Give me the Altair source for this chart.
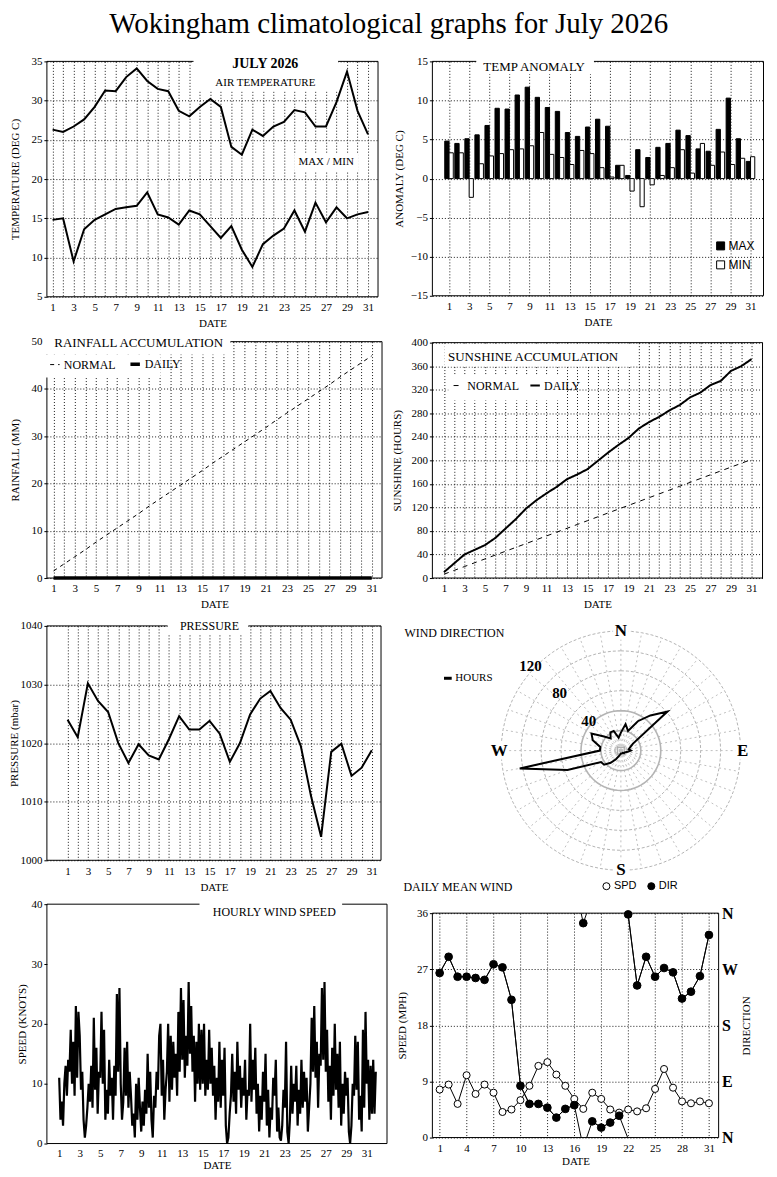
import altair as alt
import pandas as pd

SERIF = "Liberation Serif"
SANS = "Liberation Sans"

days = list(range(1, 32))
odd_days = list(range(1, 32, 2))

temp_max = [26.3, 26.0, 26.7, 27.6, 29.2, 31.3, 31.2, 33.0, 34.1, 32.5, 31.5, 31.2, 28.7, 28.0, 29.2, 30.2,
            29.2, 24.1, 23.1, 26.3, 25.5, 26.7, 27.3, 28.8, 28.5, 26.7, 26.7, 29.8, 33.7, 28.7, 25.7]
temp_min = [14.8, 15.0, 9.5, 13.6, 14.8, 15.5, 16.2, 16.4, 16.6, 18.3, 15.5, 15.1, 14.2, 16.0, 15.5, 14.0,
            12.5, 14.0, 11.0, 8.8, 11.7, 12.8, 13.7, 16.0, 13.3, 17.0, 14.5, 16.4, 15.0, 15.5, 15.8]
anom_max = [4.8, 4.5, 5.1, 5.6, 6.8, 9.0, 8.9, 10.7, 11.7, 10.4, 9.1, 8.6, 5.9, 5.4, 6.6, 7.6,
            6.7, 1.7, 0.4, 3.7, 2.7, 4.0, 4.5, 6.2, 5.5, 3.8, 3.5, 6.3, 10.3, 5.1, 2.2]
anom_min = [3.3, 3.3, -2.4, 1.9, 2.9, 3.2, 3.7, 3.8, 4.2, 5.9, 3.1, 2.7, 1.8, 3.6, 3.2, 1.4,
            0.2, 1.7, -1.6, -3.6, -0.8, 0.4, 1.4, 3.7, 0.7, 4.5, 1.7, 3.4, 1.8, 2.6, 2.8]
rain_normal = [1.5, 3.0, 4.5, 6.0, 7.6, 9.1, 10.6, 12.1, 13.6, 15.2, 16.7, 18.2, 19.7, 21.2, 22.7, 24.3,
               25.8, 27.3, 28.8, 30.3, 31.8, 33.4, 34.9, 36.4, 37.9, 39.4, 40.9, 42.5, 44.0, 45.5, 47.0]
rain_daily = [0, 0, 0, 0, 0, 0, 0, 0, 0, 0, 0, 0, 0, 0, 0, 0,
              0, 0, 0, 0, 0, 0, 0, 0, 0, 0, 0, 0, 0, 0, 0]
sun_daily = [10, 25, 40, 48, 56, 68, 84, 100, 118, 132, 144, 155, 168, 176, 185, 199,
             213, 226, 238, 254, 265, 274, 285, 294, 307, 315, 328, 335, 352, 360, 372]
sun_normal = [6.5, 13.0, 19.5, 26.0, 32.5, 39.0, 45.5, 52.0, 58.5, 65.0, 71.5, 78.0, 84.5, 91.0, 97.5, 104.0,
              110.5, 117.0, 123.5, 130.0, 136.5, 143.0, 149.5, 156.0, 162.5, 169.0, 175.5, 182.0, 188.5, 195.0, 201.5]
pressure = [1024.0, 1021.0, 1030.2, 1027.2, 1025.3, 1020.0, 1016.6, 1019.8, 1017.9, 1017.2, 1020.7, 1024.6,
            1022.3, 1022.3, 1023.8, 1021.6, 1016.8, 1020.0, 1024.9, 1027.6, 1028.9, 1026.0, 1024.0, 1019.5,
            1011.0, 1004.0, 1018.5, 1019.9, 1014.4, 1015.8, 1018.8]
rose_bearing = [0, 10, 20, 30, 40, 50, 60, 70, 80, 90, 100, 110, 120, 130, 140, 150, 160, 170,
                180, 190, 200, 210, 220, 230, 240, 250, 260, 270, 280, 290, 300, 310, 320, 330, 340, 350]
rose_hours = [18, 27, 21, 34, 46, 61, 14, 10, 8, 10, 7, 5, 4, 4, 3, 3, 3, 3,
              3, 4, 6, 10, 16, 22, 23, 57, 103, 21, 21, 30, 34, 22, 16, 21, 21, 13]
ring_radii = [20, 40, 60, 80, 100, 120]
inner_rings = [5, 10, 15]
ring_labels = [40, 80, 120]
cardinals = ["N", "E", "S", "W"]
cardinal_bearing = [0, 90, 180, 270]
# 3-hourly wind speed (knots), 8 readings per day
hourly_speed = [
    11, 4, 7, 3, 10, 13, 8, 14,
    12, 19, 10, 17, 8, 23, 11, 22,
    18, 9, 12, 4, 1, 3, 6, 10,
    7, 13, 6, 21, 9, 16, 5, 12,
    11, 22, 10, 19, 4, 9, 5, 14,
    8, 11, 4, 13, 8, 25, 12, 26,
    10, 4, 7, 16, 8, 17, 6, 12,
    8, 3, 5, 1, 10, 4, 11, 6,
    2, 7, 3, 9, 5, 15, 6, 12,
    4, 1, 8, 6, 12, 9, 18, 20,
    8, 14, 4, 9, 12, 20, 7, 18,
    9, 17, 11, 15, 8, 22, 12, 26,
    14, 24, 11, 18, 13, 27, 15, 23,
    12, 18, 7, 17, 10, 20, 9, 19,
    10, 20, 8, 14, 9, 19, 10, 16,
    8, 13, 4, 11, 7, 17, 6, 14,
    8, 16, 3, 0, 1, 5, 8, 15,
    7, 12, 5, 17, 9, 13, 6, 11,
    8, 14, 4, 9, 8, 20, 7, 14,
    9, 16, 5, 10, 2, 8, 4, 12,
    7, 15, 3, 9, 1, 6, 4, 11,
    8, 14, 2, 6, 1, 0.5, 3, 9,
    6, 17, 2, 0, 4, 13, 5, 10,
    7, 13, 3, 9, 5, 14, 6, 12,
    7, 11, 2, 6, 10, 21, 12, 23,
    11, 17, 6, 15, 13, 26, 14, 27,
    12, 19, 7, 13, 4, 16, 8, 20,
    9, 15, 6, 17, 3, 10, 5, 12,
    8, 11, 2, 0, 3, 10, 8, 18,
    9, 17, 4, 8, 2, 19, 6, 22,
    10, 14, 4, 13, 5, 14, 5, 12,
]
wind_spd = [7.7, 8.5, 5.4, 10.0, 7.0, 8.5, 7.2, 4.1, 4.5, 6.0, 8.3, 11.5, 12.1, 10.1, 8.3, 6.2,
            4.6, 7.2, 6.2, 4.5, 4.0, 4.5, 4.2, 4.7, 7.8, 11.0, 8.0, 5.8, 5.5, 5.8, 5.5]
wind_dir = [264, 290, 258, 258, 256, 253, 278, 273, 221, 83, 54, 54, 48, 32, 46, 52,
            344, 26, 16, 24, 35, 358, 244, 290, 258, 272, 265, 223, 234, 259, 325]

deco = pd.DataFrame({"k": [1]})


def border():
    return alt.Chart(deco).mark_rect(fillOpacity=0, stroke="black", strokeWidth=1).encode(
        x=alt.value(0), x2=alt.value("width"), y=alt.value(0), y2=alt.value("height"))


def wbox(x0, x1, y0, y1):
    return alt.Chart(deco).mark_rect(fill="white").encode(
        x=alt.value(x0), x2=alt.value(x1), y=alt.value(y0), y2=alt.value(y1))


def label(text, x, y, size=12, weight="normal", align="center", font=SERIF):
    return alt.Chart(deco).mark_text(text=text, fontSize=size, fontWeight=weight, align=align,
                                     baseline="middle", font=font, color="black").encode(
        x=alt.value(x), y=alt.value(y))


def day_x(domain, values, field="day", labels_odd=True, grid=True, lp=5, tp=5):
    expr = "datum.value % 2 == 1 ? datum.label : ''" if labels_odd else "datum.label"
    return alt.X(f"{field}:Q", scale=alt.Scale(domain=domain, nice=False, zero=False),
                 axis=alt.Axis(values=values, labelExpr=expr, title="DATE", grid=grid, ticks=False,
                               labelPadding=lp, titlePadding=tp))


def yax(field, domain, values, title, tp, grid=True):
    return alt.Y(f"{field}:Q", scale=alt.Scale(domain=domain, nice=False, zero=False),
                 axis=alt.Axis(values=values, title=title, grid=grid, titlePadding=tp, labelPadding=2,
                               format="d"))


# ---------- Panel 1: air temperature ----------
temp_df = pd.DataFrame({"day": days * 2, "value": temp_max + temp_min,
                        "series": ["MAX"] * 31 + ["MIN"] * 31})
p1_lines = alt.Chart(temp_df).mark_line(color="black", strokeWidth=2).encode(
    x=day_x([0.46, 31.95], days),
    y=yax("value", [5, 35], list(range(5, 36, 5)), "TEMPERATURE (DEG C)", 10.5),
    detail="series:N")
p1 = alt.layer(
    border(), wbox(147, 292, -7, 30), wbox(248, 312, 92, 110), p1_lines,
    label("JULY 2026", 219, 3, size=14, weight="bold"),
    label("AIR TEMPERATURE", 219, 22, size=11),
    label("MAX / MIN", 280, 101, size=11),
).properties(width=332, height=236)

# ---------- Panel 2: temperature anomaly ----------
anom_df = pd.DataFrame({"day": days * 2, "value": anom_max + anom_min,
                        "series": ["MAX"] * 31 + ["MIN"] * 31})
p2_bars = alt.Chart(anom_df).transform_calculate(
    x0="datum.series == 'MAX' ? datum.day - 0.43 : datum.day",
    x1="datum.series == 'MAX' ? datum.day : datum.day + 0.42",
    zero="0",
).mark_rect(stroke="black", strokeWidth=1).encode(
    x=day_x([-0.66, 32.29], odd_days, field="x0", labels_odd=False),
    x2="x1:Q",
    y=yax("value", [-15, 15], list(range(-15, 16, 5)), "ANOMALY (DEG C)", 5.8),
    y2="zero:Q",
    fill=alt.Fill("series:N", scale=alt.Scale(domain=["MAX", "MIN"], range=["black", "white"]),
                  legend=alt.Legend(orient="none", legendX=283, legendY=179, title=None,
                                    symbolType="square", symbolSize=64, symbolStrokeColor="black",
                                    symbolStrokeWidth=1, labelFont=SANS, labelFontSize=12,
                                    rowPadding=7, labelOffset=2)))
p2 = alt.layer(
    border(), wbox(44, 162, -7, 13), p2_bars,
    label("TEMP ANOMALY", 102, 6, size=13),
).properties(width=332, height=235)

# ---------- Panel 3: rainfall ----------
rain_df = pd.DataFrame({"day": days * 2, "value": rain_normal + rain_daily,
                        "series": ["NORMAL"] * 31 + ["DAILY"] * 31})
p3_lines = alt.Chart(rain_df).mark_line(color="black").encode(
    x=day_x([0.37, 31.97], days),
    y=yax("value", [0, 50], list(range(0, 51, 10)), "RAINFALL (MM)", 10.5),
    strokeDash=alt.StrokeDash("series:N", scale=alt.Scale(domain=["NORMAL", "DAILY"], range=[[4, 4], [1, 0]]),
                              legend=alt.Legend(orient="none", legendX=2, legendY=16, direction="horizontal",
                                                title=None, symbolType="stroke", symbolSize=90,
                                                symbolStrokeColor="black", symbolStrokeWidth=2,
                                                labelFont=SERIF, labelFontSize=12, columnPadding=6,
                                                labelOffset=3)),
    strokeWidth=alt.StrokeWidth("series:N", scale=alt.Scale(domain=["NORMAL", "DAILY"], range=[1, 3.5]),
                                legend=None))
p3 = alt.layer(
    border(), wbox(-3, 184, -7, 13), wbox(-3, 114, 13, 36), p3_lines,
    label("RAINFALL ACCUMULATION", 92, 1, size=13),
).properties(width=336, height=237)

# ---------- Panel 4: sunshine ----------
sun_df = pd.DataFrame({"day": days * 2, "value": sun_normal + sun_daily,
                       "series": ["NORMAL"] * 31 + ["DAILY"] * 31})
p4_lines = alt.Chart(sun_df).mark_line(color="black").encode(
    x=day_x([-0.13, 32.07], days),
    y=yax("value", [0, 400], list(range(0, 401, 40)), "SUNSHINE (HOURS)", 8),
    strokeDash=alt.StrokeDash("series:N", scale=alt.Scale(domain=["NORMAL", "DAILY"], range=[[5, 5], [1, 0]]),
                              legend=alt.Legend(orient="none", legendX=20, legendY=37, direction="horizontal",
                                                title=None, symbolType="stroke", symbolSize=90,
                                                symbolStrokeColor="black", symbolStrokeWidth=2,
                                                labelFont=SERIF, labelFontSize=12, columnPadding=6,
                                                labelOffset=3)),
    strokeWidth=alt.StrokeWidth("series:N", scale=alt.Scale(domain=["NORMAL", "DAILY"], range=[1, 2]),
                                legend=None))
p4 = alt.layer(
    border(), wbox(12, 199, -13, -1), wbox(12, 199, 1, 24), wbox(16, 134, 33, 58), p4_lines,
    label("SUNSHINE ACCUMULATION", 101, 14, size=13),
).properties(width=331, height=236)

# ---------- Panel 5: pressure ----------
pres_df = pd.DataFrame({"day": days, "value": pressure})
p5_line = alt.Chart(pres_df).mark_line(color="black", strokeWidth=2).encode(
    x=day_x([-1.04, 31.91], days),
    y=yax("value", [1000, 1040], list(range(1000, 1041, 10)), "PRESSURE (mbar)", 0))
p5 = alt.layer(
    border(), wbox(121, 202, -10, 8), p5_line,
    label("PRESSURE", 163, 0, size=12),
).properties(width=335, height=235)

# ---------- Panel 6: wind rose ----------
RX = alt.Scale(domain=[-189, 148], nice=False, zero=False)
RY = alt.Scale(domain=[-127, 130], nice=False, zero=False)
angles = list(range(0, 361, 5))
ring_df = pd.DataFrame([{"r": r, "a": a} for r in ring_radii for a in angles])
inner_df = pd.DataFrame([{"r": r, "a": a} for r in inner_rings for a in angles])
spoke_df = pd.DataFrame({"b": list(range(0, 360, 10))})
rose_df = pd.DataFrame({"bearing": rose_bearing, "hours": rose_hours})
card_df = pd.DataFrame({"lbl": cardinals, "b": cardinal_bearing})
rlab_df = pd.DataFrame({"r": ring_labels})

circ_xy = dict(px="datum.r * sin(datum.a * PI / 180)", py="datum.r * cos(datum.a * PI / 180)")
RXE = alt.X("px:Q", scale=RX, axis=None)
RYE = alt.Y("py:Q", scale=RY, axis=None)
rings_outer = alt.Chart(ring_df).transform_filter("datum.r > 40").transform_calculate(**circ_xy).mark_line(
    color="#b4b4b4", strokeWidth=1, strokeDash=[3, 2]).encode(x=RXE, y=RYE, detail="r:N", order="a:Q")
rings_solid = alt.Chart(ring_df).transform_filter("datum.r <= 40").transform_calculate(**circ_xy).mark_line(
    color="#b4b4b4", strokeWidth=1.6).encode(x=RXE, y=RYE, detail="r:N", order="a:Q")
rings_inner = alt.Chart(inner_df).transform_calculate(**circ_xy).mark_line(
    color="#c8c8c8", strokeWidth=1, strokeDash=[1, 2]).encode(x=RXE, y=RYE, detail="r:N", order="a:Q")
spokes = alt.Chart(spoke_df).transform_calculate(
    px="0", py="0", sx="120 * sin(datum.b * PI / 180)", sy="120 * cos(datum.b * PI / 180)").mark_rule(
    color="#c0c0c0", strokeWidth=1, strokeDash=[2, 3]).encode(x=RXE, y=RYE, x2="sx:Q", y2="sy:Q")
center_sq = alt.Chart(deco).transform_calculate(px="0", py="0").mark_square(
    size=45, filled=False, color="#909090", strokeWidth=1.5).encode(x=RXE, y=RYE)
rose_line = alt.Chart(rose_df).transform_calculate(
    px="datum.hours * sin(datum.bearing * PI / 180)",
    py="datum.hours * cos(datum.bearing * PI / 180)",
    lbl="'HOURS'").mark_line(interpolate="linear-closed", strokeWidth=2).encode(
    x=RXE, y=RYE, order="bearing:Q",
    color=alt.Color("lbl:N", scale=alt.Scale(domain=["HOURS"], range=["black"]),
                    legend=alt.Legend(orient="none", legendX=10, legendY=52, title=None,
                                      symbolType="stroke", symbolStrokeWidth=3, symbolSize=60,
                                      labelFont=SERIF, labelFontSize=11, labelOffset=2)))
card_pos = dict(px="122 * sin(datum.b * PI / 180)", py="120 * cos(datum.b * PI / 180)")
card_halo = alt.Chart(card_df).transform_calculate(**card_pos).mark_text(
    font=SERIF, fontSize=17, fontWeight="bold", stroke="white", strokeWidth=7, color="white").encode(
    x=RXE, y=RYE, text="lbl:N")
card_text = alt.Chart(card_df).transform_calculate(**card_pos).mark_text(
    font=SERIF, fontSize=17, fontWeight="bold", color="black").encode(x=RXE, y=RYE, text="lbl:N")
rlab = alt.Chart(rlab_df).transform_calculate(
    px="(datum.r + 4) * sin(313 * PI / 180)", py="(datum.r + 4) * cos(313 * PI / 180)").mark_text(
    font=SERIF, fontSize=15, fontWeight="bold", color="black").encode(x=RXE, y=RYE, text="r:Q")
p6 = alt.layer(
    wbox(0, 100, -9, -1),
    rings_inner, spokes, rings_outer, rings_solid, center_sq, rose_line, card_halo, card_text, rlab,
    label("WIND DIRECTION", -28, 12, size=12, align="left"),
).properties(width=337, height=257)

# ---------- Panel 7: hourly wind speed ----------
hourly_df = pd.DataFrame({"day": [1 + i / 8 for i in range(len(hourly_speed))], "speed": hourly_speed})
p7_line = alt.Chart(hourly_df).mark_line(color="black", strokeWidth=2.2).encode(
    x=day_x([-0.2, 32.97], odd_days, labels_odd=False, grid=False, lp=4, tp=1),
    y=yax("speed", [0, 40], list(range(0, 41, 10)), "SPEED (KNOTS)", 3.5, grid=False))
p7 = alt.layer(
    border(), p7_line, wbox(153, 296, -6, 22),
    label("HOURLY WIND SPEED", 228, 8, size=12),
).properties(width=341, height=240)

# ---------- Panel 8: daily mean wind ----------
spd_df = pd.DataFrame({"day": days, "v": wind_spd})
dir_df = pd.DataFrame({"day": days, "dir": wind_dir})
X8 = day_x([0.19, 32.08], list(range(1, 32, 3)), labels_odd=False, lp=5, tp=2)
S8 = alt.Scale(domain=[0, 36], nice=False, zero=False)
Y8 = alt.Y("v:Q", scale=S8, axis=alt.Axis(values=[0, 9, 18, 27, 36], title="SPEED (MPH)", grid=True,
                                          titlePadding=8.5, labelPadding=2))
Y8R = alt.Y("v:Q", scale=S8, axis=alt.Axis(
    orient="right", values=[0, 9, 18, 27, 36], labelExpr="['N','E','S','W','N'][round(datum.value / 9)]",
    title="DIRECTION", grid=False, ticks=False, labelFontSize=16, labelFontWeight="bold",
    labelPadding=3, titlePadding=14, titleAngle=270))
Y8N = alt.Y("v:Q", scale=S8, axis=None)
fill_leg = alt.Legend(orient="none", legendX=169, legendY=-33, direction="horizontal", title=None,
                      symbolType="circle", symbolSize=50, symbolStrokeColor="black", symbolStrokeWidth=1,
                      labelFont=SANS, labelFontSize=11, columnPadding=8, labelOffset=2)
FILL = alt.Fill("series:N", scale=alt.Scale(domain=["SPD", "DIR"], range=["white", "black"]), legend=fill_leg)

spd_line = alt.Chart(spd_df).mark_line(color="black", strokeWidth=1).encode(x=X8, y=Y8)
spd_pts = alt.Chart(spd_df).transform_calculate(series="'SPD'").mark_point(
    shape="circle", filled=True, stroke="black", strokeWidth=1, size=50, opacity=1).encode(
    x=X8, y=Y8N, fill=FILL)
dir_base = alt.Chart(dir_df).transform_calculate(v="datum.dir / 10").transform_window(
    nday="lead(day)", nv="lead(v)", sort=[alt.SortField("day")]
).transform_filter("datum.nday != null").transform_calculate(
    k="(datum.nv - datum.v) > 18 ? -1 : ((datum.nv - datum.v) < -18 ? 1 : 0)"
).transform_calculate(
    ya2="datum.nv + 36 * datum.k", yb1="datum.v - 36 * datum.k")
rule_a = dir_base.mark_rule(color="black", strokeWidth=1, clip=True).encode(
    x=X8, x2="nday:Q", y=Y8R, y2="ya2:Q")
rule_b = dir_base.mark_rule(color="black", strokeWidth=1, clip=True).encode(
    x=X8, x2="nday:Q", y=alt.Y("yb1:Q", scale=S8, axis=None), y2="nv:Q")
dir_pts = alt.Chart(dir_df).transform_calculate(v="datum.dir / 10", series="'DIR'").mark_point(
    shape="circle", filled=True, stroke="black", strokeWidth=1, size=60, opacity=1).encode(
    x=X8, y=Y8N, fill=FILL)
p8 = alt.layer(
    border(), spd_line, spd_pts, rule_a, rule_b, dir_pts,
    label("DAILY MEAN WIND", -29, -26, size=12, align="left"),
).resolve_axis(y="independent").properties(width=287, height=225)

IND = dict(fill="independent", strokeDash="independent", strokeWidth="independent", color="independent")
leftcol = alt.vconcat(p1, p3, p5, p7, spacing=4).resolve_scale(**IND)
rightcol = alt.vconcat(p2, p4, p6, p8, spacing=0).resolve_scale(**IND)

chart = alt.hconcat(leftcol, rightcol, spacing=3.5).resolve_scale(**IND).properties(
    title=alt.TitleParams("Wokingham climatological graphs for July 2026", font=SERIF, fontSize=29,
                          fontWeight="normal", color="black", anchor="middle", offset=15),
    padding=0, background="white",
).configure_view(stroke="transparent").configure_axis(
    labelFont=SERIF, labelFontSize=11, labelColor="black", titleFont=SERIF, titleFontSize=11,
    titleFontWeight="normal", titleColor="black", domain=False, tickColor="black", tickSize=3,
    gridColor="black", gridDash=[1, 2], gridOpacity=0.9, labelOverlap=False, labelFlush=False,
).configure_legend(labelColor="black")

chart.save("out.html", embed_options={"renderer": "svg", "actions": False})
